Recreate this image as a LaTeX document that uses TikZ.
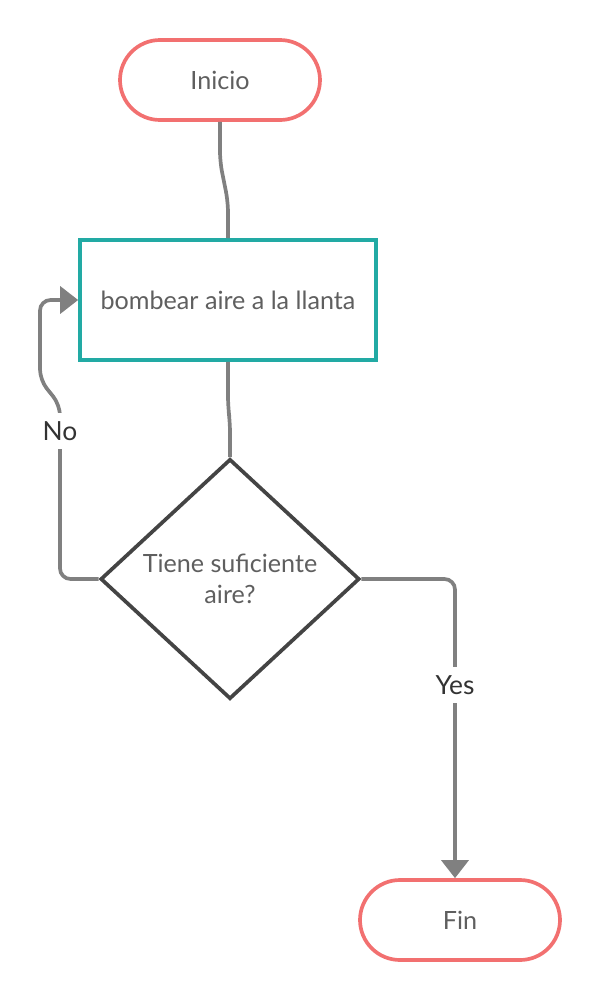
\documentclass[tikz,border=0pt]{standalone}
\usepackage{fontspec}
\setmainfont{Lato}
\usepackage{tikz}
\usetikzlibrary{shapes.geometric,arrows.meta,positioning,calc}
\definecolor{cCoral}{RGB}{242,112,112}
\definecolor{cTeal}{RGB}{34,170,164}
\definecolor{cDia}{RGB}{68,68,68}
\definecolor{cLine}{RGB}{128,128,128}
\definecolor{cText}{RGB}{95,95,95}
\definecolor{cLab}{RGB}{51,51,51}
\tikzset{
  basebox/.style={align=center,font=\fontsize{14.3}{18}\selectfont,
                  text=cText,line width=2.1pt,fill=white},
  termnode/.style={basebox,rectangle,rounded corners=0.8cm,draw=cCoral,
                   minimum width=4cm,minimum height=1.6cm},
  procnode/.style={basebox,rectangle,draw=cTeal,
                   minimum width=5.92cm,minimum height=2.4cm},
  decnode/.style={basebox,diamond,draw=cDia,aspect=1.08,inner sep=0pt,
                  minimum width=5.18cm,minimum height=4.8cm},
  conn/.style={line width=2.1pt,color=cLine,rounded corners=6pt},
  arr/.style={conn,-{Triangle[length=0.36cm,width=0.54cm]}},
  lab/.style={fill=white,text=cLab,inner xsep=2pt,inner ysep=5pt,
              font=\fontsize{15}{18}\selectfont}
}
\begin{document}
\begin{tikzpicture}
  \useasboundingbox (0,0) rectangle (12,-20);

  \node[termnode] (ini) at (4.4,-1.6) {Inicio};
  \node[procnode] (bomb) at (4.56,-6.0) {bombear aire a la llanta};
  \node[decnode] (aire) at (4.6,-11.58) {Tiene suficiente\\aire?};
  \node[termnode] (fin) at (9.2,-18.4) {Fin};

  \draw[conn] (ini.south) -- ++(0,-0.8) -- ++(0.16,-0.8) -- (bomb.north);
  \draw[conn] (bomb.south) -- ++(0,-0.9) -- ++(0.04,-0.3) -- (aire.north);

  % no: back to the pump
  \draw[arr] (aire.west) -- (1.2,-11.58) -- (1.2,-8.1) -- (0.8,-7.6)
      -- (0.8,-6.0) -- (bomb.west);
  \node[lab] (no) at (1.2,-8.62) {No};

  % yes: done
  \draw[arr] (aire.east) -| ($(fin.north)+(-0.1,0)$);
  \node[lab] (yes) at (9.1,-13.7) {Yes};
\end{tikzpicture}
\end{document}
